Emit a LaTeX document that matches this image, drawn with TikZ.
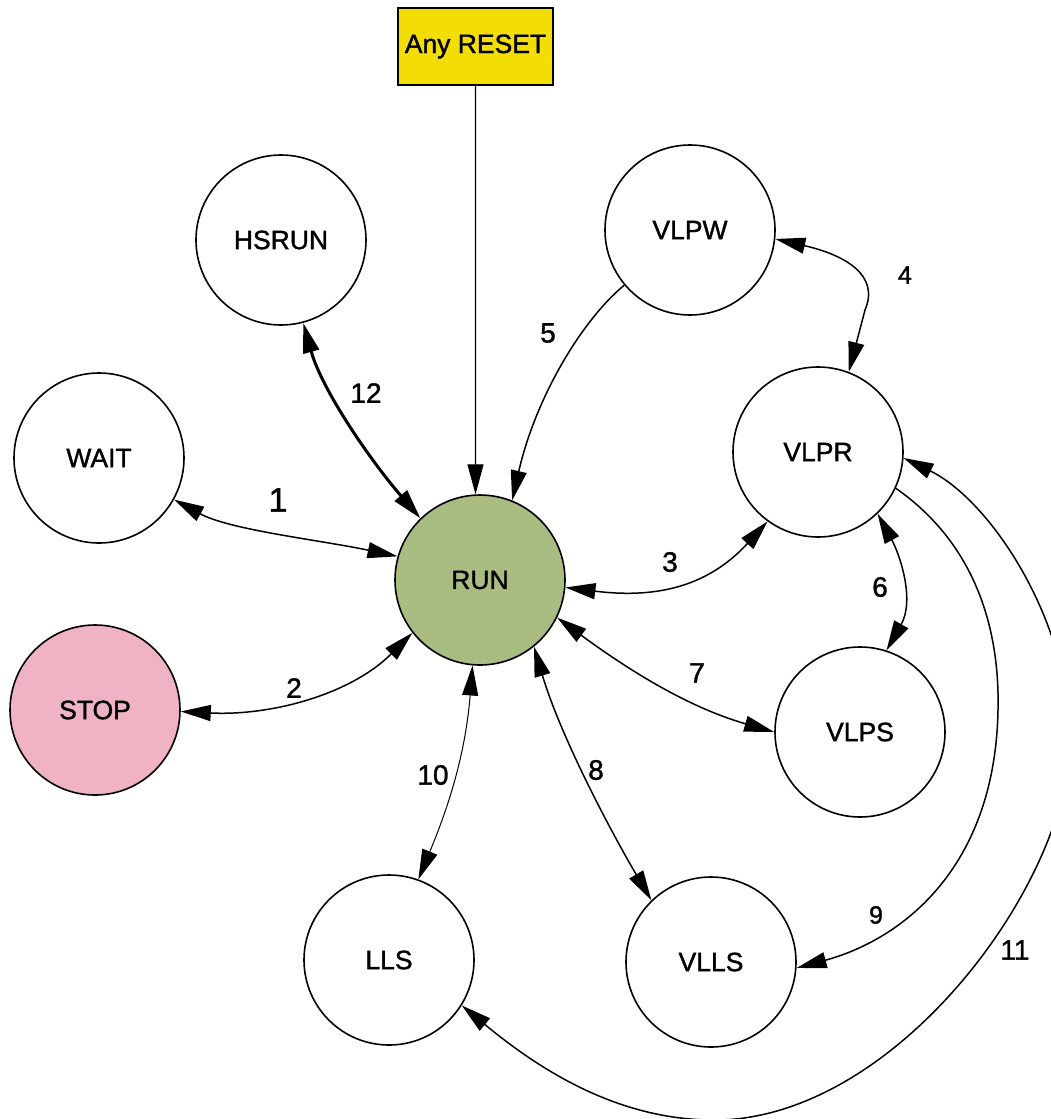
\documentclass[tikz,border=0pt]{standalone}
\usepackage{fontspec}
\setmainfont{Liberation Sans}[FakeBold=1.3]
\usetikzlibrary{arrows.meta}
\definecolor{resetyellow}{RGB}{242,222,5}
\definecolor{rungreen}{RGB}{169,188,130}
\definecolor{stoppink}{RGB}{239,179,195}
\tikzset{
  state/.style={circle, draw=black, line width=1.6pt, fill=white, minimum size=170pt, inner sep=0pt,
    font=\fontsize{26.5}{30}\selectfont},
  resetbox/.style={rectangle, draw=black, line width=1.4pt, fill=resetyellow, minimum width=155pt,
    minimum height=77pt, inner sep=0pt, font=\fontsize{26.5}{30}\selectfont},
  elabel/.style={font=\fontsize{28}{32}\selectfont, inner sep=0pt},
  slabel/.style={font=\fontsize{25}{30}\selectfont, inner sep=0pt},
  tip/.style={-{Triangle[length=30pt,width=16pt]}},
  both/.style={{Triangle[length=30pt,width=16pt]}-{Triangle[length=30pt,width=16pt]}},
  conn/.style={line width=1.5pt},
}
\begin{document}
\begin{tikzpicture}[x=1pt,y=-1pt]
\useasboundingbox (0,0) rectangle (1051,1119);
\fill[white] (0,0) rectangle (1051,1119);

\node[resetbox] (reset) at (475.5,46.5) {Any RESET};
\node[state] (hsrun) at (281,240) {HSRUN};
\node[state] (vlpw) at (690,230) {VLPW};
\node[state] (wait) at (99,458) {WAIT};
\node[state] (vlpr) at (818,452) {VLPR};
\node[state, fill=rungreen] (run) at (480,580) {RUN};
\node[state, fill=stoppink] (stop) at (95,710) {STOP};
\node[state] (vlps) at (860,732) {VLPS};
\node[state] (lls) at (389,960) {LLS};
\node[state] (vlls) at (711,962) {VLLS};

% reset
\draw[line width=1.2pt, tip] (reset.south) -- (run.93);
% 1
\draw[conn, both] (wait.-29) .. controls (230,530) and (320,540) .. (run.164);
% 2
\draw[conn, both] (stop.-1) .. controls (270,716) and (350,695) .. (run.218);
% 3
\draw[conn, both] (run.-5) .. controls (650,598) and (705,590) .. (vlpr.234);
% 4
\draw[conn, both] (vlpw.-6) .. controls (845,255) and (880,275) .. (865,310) -- (vlpr.69);
% 5
\draw[conn, tip] (vlpw.220) .. controls (580,322) and (535,400) .. (run.68);
% 6
\draw[conn, both] (vlpr.-46) .. controls (900,555) and (915,600) .. (vlps.72);
% 7
\draw[conn, both] (run.-26) .. controls (615,660) and (680,705) .. (vlps.180);
% 8
\draw[conn, both] (run.-51) .. controls (560,735) and (610,830) .. (vlls.134.5);
% 9
\draw[conn, tip] (vlpr.-25) .. controls (970,540) and (1000,620) .. (998,710)
   .. controls (995,870) and (900,940) .. (vlls.-4);
% 10
\draw[line width=1pt, both] (run.265) .. controls (465,760) and (445,815) .. (lls.70);
% 11
\draw[conn, both] (vlpr.-4) .. controls (990,500) and (1070,620) .. (1070,740)
   .. controls (1070,880) and (900,1115) .. (720,1120)
   .. controls (620,1122) and (540,1070) .. (lls.-32);
% 12
\draw[line width=3pt, both] (hsrun.-75) .. controls (322,390) and (370,460) .. (run.134.5);

\node[font=\fontsize{34}{38}\selectfont, inner sep=0pt] (l1) at (278,500) {1};
\node[elabel] (l2) at (294,688) {2};
\node[elabel] (l3) at (670,562) {3};
\node[slabel] (l4) at (905,275) {4};
\node[elabel] (l5) at (548,333) {5};
\node[elabel] (l6) at (880,587) {6};
\node[elabel] (l7) at (697,673) {7};
\node[elabel] (l8) at (596,770) {8};
\node[slabel] (l9) at (876,915) {9};
\node[elabel] (l10) at (433,775) {10};
\node[elabel] (l11) at (1015,950) {11};
\node[elabel] (l12) at (366,393) {12};
\end{tikzpicture}
\end{document}
